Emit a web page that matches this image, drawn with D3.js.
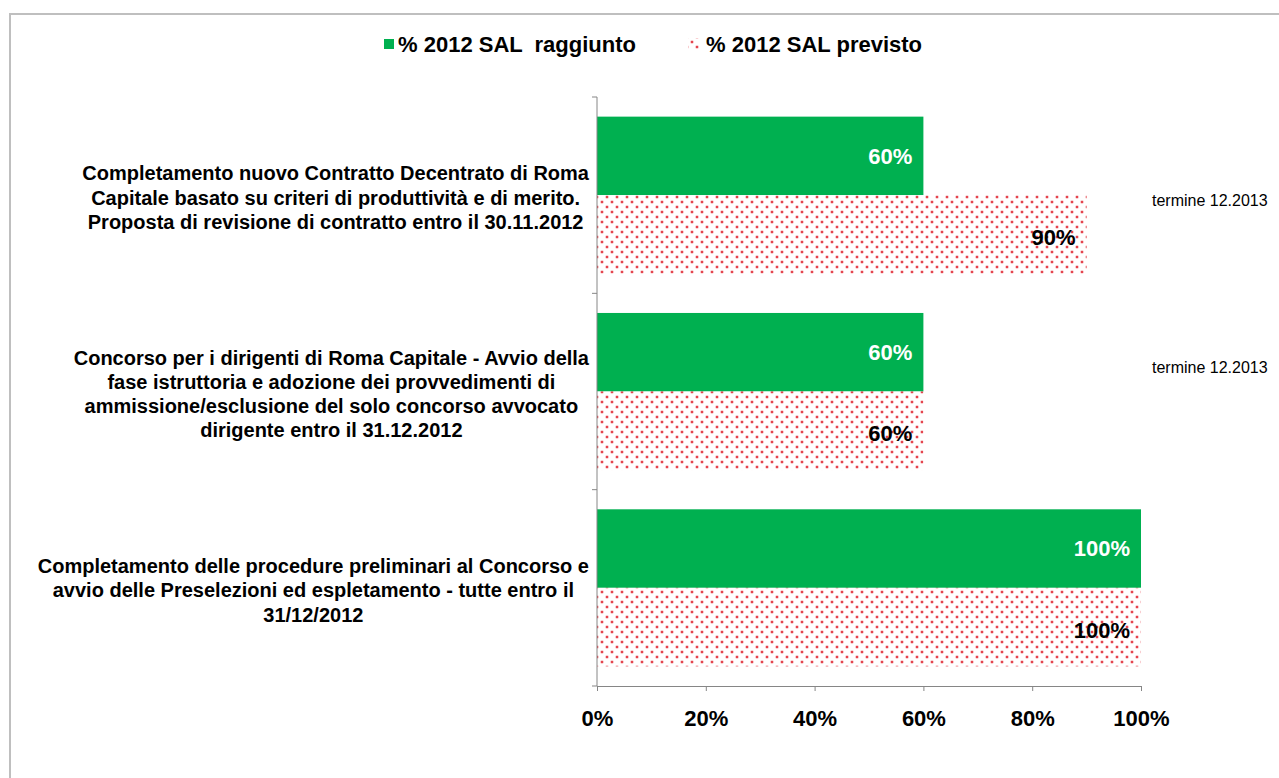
<!DOCTYPE html>
<html lang="it">
<head>
  <meta charset="UTF-8">
  <title>SAL 2012</title>
  <script src="https://d3js.org/d3.v7.min.js"></script>
  <style>
    body { margin: 0; background: #fff; font-family: "Liberation Sans", Arial, sans-serif; }
    svg text { font-family: "Liberation Sans", Arial, sans-serif; }
    .axis path, .axis line { stroke: #868686; }
  </style>
</head>
<body>
  <svg width="1279" height="778"></svg>

  <script>
    // dati
    const categories = [
      ["Completamento nuovo Contratto Decentrato di Roma",
       "Capitale basato su criteri di produttività e di merito.",
       "Proposta di revisione di contratto entro il 30.11.2012"],
      ["Concorso per i dirigenti di Roma Capitale - Avvio della",
       "fase istruttoria e adozione dei provvedimenti di",
       "ammissione/esclusione del solo concorso avvocato",
       "dirigente entro il 31.12.2012"],
      ["Completamento delle procedure preliminari al Concorso e",
       "avvio delle Preselezioni ed espletamento - tutte entro il",
       "31/12/2012"]
    ];
    const raggiunto = [60, 60, 100];
    const previsto = [90, 60, 100];
    const notes = ["termine 12.2013", "termine 12.2013", ""];
    const seriesNames = ["% 2012 SAL  raggiunto", "% 2012 SAL previsto"];
    const xTicks = [0, 20, 40, 60, 80, 100];

    const svg = d3.select("svg");

    // cornice
    svg.append("rect")
      .attr("x", 10).attr("y", 14)
      .attr("width", 1300).attr("height", 800)
      .attr("fill", "none").attr("stroke", "#bfbfbf").attr("stroke-width", 2);

    // motivo a puntini
    const defs = svg.append("defs");
    const pat = defs.append("pattern")
      .attr("id", "dots").attr("patternUnits", "userSpaceOnUse")
      .attr("width", 10).attr("height", 10);
    pat.append("rect").attr("width", 10).attr("height", 10).attr("fill", "#fff");
    [[2, 2], [7, 7]].forEach(([cx, cy]) => {
      pat.append("circle").attr("cx", cx).attr("cy", cy).attr("r", 1.8).attr("fill", "#f5b0b4");
      pat.append("circle").attr("cx", cx).attr("cy", cy).attr("r", 1.0).attr("fill", "#e0202c");
    });

    const margin = {left: 597, right: 138, top: 97, bottom: 92};
    const W = 1279, H = 778;

    const x = d3.scaleLinear().domain([0, 100]).range([margin.left, W - margin.right]);
    const y = d3.scaleBand().domain(d3.range(categories.length))
      .range([margin.top, H - margin.bottom]).padding(0);
    const sub = d3.scaleBand().domain([0, 1]).range([0, y.bandwidth()])
      .paddingInner(0).paddingOuter(0.25);

    const bars = [
      {name: seriesNames[0], values: raggiunto, fill: "#00b050", label: "#fff"},
      {name: seriesNames[1], values: previsto, fill: "url(#dots)", label: "#000"}
    ];

    bars.forEach((s, si) => {
      const g = svg.append("g");
      g.selectAll("rect").data(s.values).join("rect")
        .attr("x", x(0))
        .attr("y", (d, i) => y(i) + sub(si))
        .attr("width", d => x(d) - x(0))
        .attr("height", sub.bandwidth())
        .attr("fill", s.fill);
      g.selectAll("text").data(s.values).join("text")
        .attr("x", d => x(d) - 11)
        .attr("y", (d, i) => y(i) + sub(si) + sub.bandwidth() / 2 + (si ? 3 : 0))
        .attr("dy", "0.35em")
        .attr("text-anchor", "end")
        .attr("font-size", 22).attr("font-weight", "bold")
        .attr("fill", s.label)
        .text(d => d + "%");
    });

    // assi
    svg.append("g").attr("class", "axis")
      .attr("transform", `translate(0,${H - margin.bottom})`)
      .call(d3.axisBottom(x).tickValues(xTicks).tickFormat(d => d + "%").tickSizeOuter(0).tickSize(5))
      .call(g => g.select(".domain").attr("d", `M${x(0)},0.5H${x(100)}`))
      .call(g => g.selectAll("text").attr("font-size", 22).attr("font-weight", "bold")
        .attr("fill", "#000").attr("y", 24).attr("dy", "0.71em"));

    const yAxis = svg.append("g").attr("class", "axis")
      .attr("transform", `translate(${margin.left},0)`);
    yAxis.append("line").attr("y1", margin.top).attr("y2", H - margin.bottom);
    yAxis.selectAll("line.tk").data(d3.range(categories.length + 1)).join("line")
      .attr("class", "tk")
      .attr("x1", -5).attr("x2", 0)
      .attr("y1", i => margin.top + i * y.step())
      .attr("y2", i => margin.top + i * y.step());

    // etichette categorie: blocco allineato a destra, righe centrate nel blocco
    const labelRight = 589;
    svg.append("g").selectAll("text").data(categories).join("text")
      .attr("text-anchor", "middle")
      .attr("font-size", 20).attr("font-weight", "bold")
      .attr("fill", "#000")
      .each(function (lines, i) {
        const t = d3.select(this);
        const cy = y(i) + y.bandwidth() / 2 + 2.5;
        const lh = 24.3;
        const spans = lines.map((ln, k) => t.append("tspan")
          .attr("y", cy + (k - (lines.length - 1) / 2) * lh)
          .attr("dy", "0.35em")
          .text(ln));
        const maxW = d3.max(spans, s => s.node().getComputedTextLength());
        spans.forEach(s => s.attr("x", labelRight - maxW / 2));
      });

    // note
    const noteDy = [5, -24.5];
    svg.append("g").selectAll("text").data(notes.filter(n => n)).join("text")
      .attr("x", 1152)
      .attr("y", (d, i) => y(i) + y.bandwidth() / 2 + noteDy[i])
      .attr("dy", "0.35em")
      .attr("font-size", 16)
      .attr("fill", "#000")
      .text(d => d);

    // legenda
    const leg = svg.append("g");
    leg.append("rect").attr("x", 384).attr("y", 39).attr("width", 10).attr("height", 10).attr("fill", "#00b050");
    leg.append("rect").attr("x", 688).attr("y", 38).attr("width", 12).attr("height", 12).attr("fill", "url(#dots)");
    leg.selectAll("text").data(seriesNames).join("text")
      .attr("x", (d, i) => i ? 706 : 398)
      .attr("y", 44).attr("dy", "0.35em")
      .attr("font-size", 22).attr("font-weight", "bold")
      .style("white-space", "pre")
      .attr("fill", "#000")
      .text(d => d);
  </script>
</body>
</html>
